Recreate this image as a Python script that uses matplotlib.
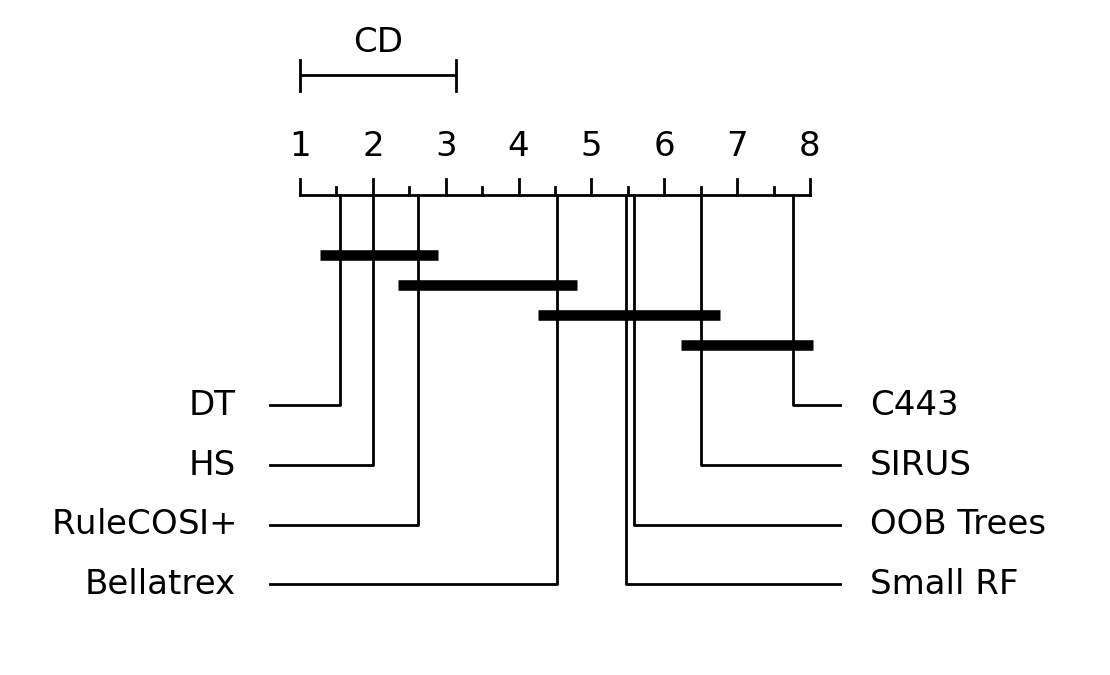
import matplotlib
matplotlib.use("Agg")
import matplotlib.pyplot as plt
import numpy as np

# average ranks
left_names = ["DT", "HS", "RuleCOSI$+$", "Bellatrex"]
left_ranks = [1.55, 2.00, 2.62, 4.53]
right_names = ["C443", "SIRUS", "OOB Trees", "Small RF"]
right_ranks = [7.77, 6.50, 5.58, 5.47]

# groups of methods not significantly different (joined by thick bars)
cliques = [(1.55, 2.62), (2.62, 4.53), (4.53, 6.50), (6.50, 7.77)]

cd = 2.14
lowv, highv = 1, 8

plt.rcParams['font.family'] = ['DejaVu Sans']
plt.rcParams['mathtext.fontset'] = 'dejavusans'
fig = plt.figure(figsize=(11.1, 6.75), dpi=100)
ax = fig.add_axes([0, 0, 1, 1])
ax.set_axis_off()

unit = 510 / 7  # pixels per rank
ax.set_xlim(lowv - 300 / unit, highv + 300 / unit)
ax.set_ylim(675, 0)

lw = 2.0
fs = 24.5

# CD bar
ax.plot([lowv, lowv + cd], [75, 75], color="k", lw=lw, solid_capstyle="butt")
for x in [lowv, lowv + cd]:
    ax.plot([x, x], [60, 91], color="k", lw=lw)
ax.text(lowv + cd / 2, 52, "CD", ha="center", va="baseline", fontsize=fs)

# rank axis
axis_y = 195
ax.plot([lowv, highv], [axis_y, axis_y], color="k", lw=lw, solid_capstyle="projecting")
for t in np.arange(lowv, highv + 0.01, 0.5):
    top = 179 if t == int(t) else 187
    ax.plot([t, t], [top, axis_y], color="k", lw=lw)
for t in range(lowv, highv + 1):
    ax.text(t, 156, str(t), ha="center", va="baseline", fontsize=fs)

# method labels and connectors
label_y = [405, 465, 524.5, 584]
for name, r, y in zip(left_names, left_ranks, label_y):
    ax.plot([r, r, lowv - 30 / unit], [axis_y, y, y], color="k", lw=lw)
    ax.text(lowv - 64 / unit, y + 10, name, ha="right", va="baseline", fontsize=fs)
for name, r, y in zip(right_names, right_ranks, label_y):
    ax.plot([r, r, highv + 30 / unit], [axis_y, y, y], color="k", lw=lw)
    ax.text(highv + 60 / unit, y + 10, name, ha="left", va="baseline", fontsize=fs)

# clique bars
ext = 0.27
bar_y = [255, 285, 315, 345]
for (a, b), y in zip(cliques, bar_y):
    ax.plot([a - ext, b + ext], [y, y], color="k", lw=7.6, solid_capstyle="butt")

fig.savefig("out.png", dpi=100)
